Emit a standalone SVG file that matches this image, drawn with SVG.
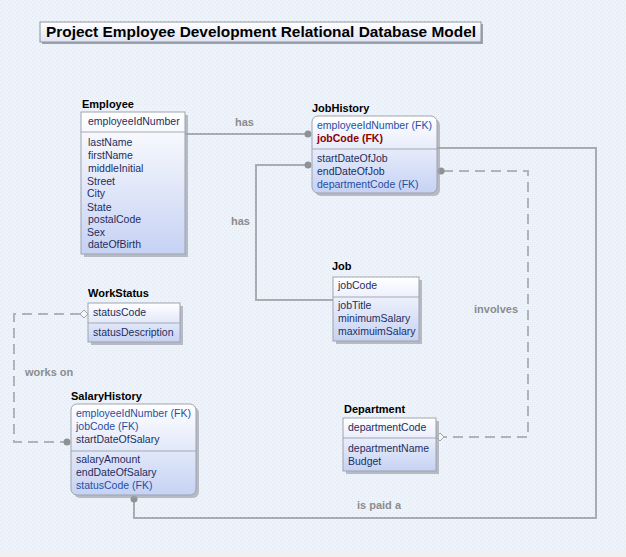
<svg xmlns="http://www.w3.org/2000/svg" width="626" height="557" viewBox="0 0 626 557">
<defs>
<pattern id="bgp" width="4" height="4" patternUnits="userSpaceOnUse">
<rect width="4" height="4" fill="#eef3fa"/>
<rect x="0" y="0" width="1" height="1" fill="#e0e7f1"/>
<rect x="2" y="2" width="1" height="1" fill="#e0e7f1"/>
</pattern>
<linearGradient id="ent" x1="0" y1="0" x2="0" y2="1">
<stop offset="0" stop-color="#ffffff"/>
<stop offset="1" stop-color="#c6d2f4"/>
</linearGradient>
<linearGradient id="ttl" x1="0" y1="0" x2="0" y2="1">
<stop offset="0" stop-color="#ffffff"/>
<stop offset="1" stop-color="#dfe4f6"/>
</linearGradient>
</defs>
<style>
.shadow{fill:#9ea3ad;opacity:0.7}
.box{fill:url(#ent);stroke:#9ea3ad;stroke-width:1}
.sep{stroke:#a3a8b3;stroke-width:1}
.etitle{font-family:"Liberation Sans",Arial,sans-serif;font-size:11px;font-weight:bold;fill:#000}
.attr{font-family:"Liberation Sans",Arial,sans-serif;font-size:10.5px;fill:#1f2d5c}
.fk{font-family:"Liberation Sans",Arial,sans-serif;font-size:10.5px;fill:#1f4fa3}
.fkb{font-family:"Liberation Sans",Arial,sans-serif;font-size:10.5px;font-weight:bold;fill:#8b0000}
.conn{fill:none;stroke:#a9acb3;stroke-width:2}
.dash{fill:none;stroke:#b0b3b9;stroke-width:2;stroke-dasharray:10,6}
.dot{fill:#8f9197}
.dia{fill:#f4f6fa;stroke:#a0a3a9;stroke-width:1}
.lbl{font-family:"Liberation Sans",Arial,sans-serif;font-size:11px;font-weight:bold;fill:#8c8c8c}
</style>
<rect width="626" height="557" fill="url(#bgp)"/>
<rect x="0" y="551" width="626" height="6" fill="#f0f0f0"/>

<g id="title">
<rect x="42" y="24" width="441" height="20" fill="#9ea3ad"/>
<rect x="40" y="22" width="441" height="20" fill="url(#ttl)" stroke="#8e939c" stroke-width="1"/>
<text x="46" y="37" font-family="Liberation Sans,Arial,sans-serif" font-size="14" font-weight="bold" fill="#000" textLength="430" lengthAdjust="spacingAndGlyphs">Project Employee Development Relational Database Model</text>
</g>

<g id="connectors">
<g id="c-has1">
<line class="conn" x1="185" y1="134" x2="306" y2="134"/>
<circle class="dot" cx="308" cy="134" r="3.5"/>
<text class="lbl" x="235" y="126">has</text>
</g>
<g id="c-has2">
<polyline class="conn" points="333,300 256,300 256,165 306,165"/>
<circle class="dot" cx="308" cy="165" r="3.5"/>
<text class="lbl" x="231" y="225">has</text>
</g>
<g id="c-involves">
<polyline class="dash" points="443,171 528,171 528,437 444,437"/>
<circle class="dot" cx="441" cy="171" r="3.5"/>
<polygon class="dia" points="436,437 440,433 444,437 440,441"/>
<text class="lbl" x="474" y="313">involves</text>
</g>
<g id="c-ispaida">
<polyline class="conn" points="437,148 596,148 596,518 134,518 134,501"/>
<circle class="dot" cx="134" cy="499" r="3.5"/>
<text class="lbl" x="357" y="509">is paid a</text>
</g>
<g id="c-workson">
<polyline class="dash" points="80,314 14,314 14,442 64,442"/>
<polygon class="dia" points="80,314 84,310 88,314 84,318"/>
<circle class="dot" cx="67" cy="442" r="3.5"/>
<text class="lbl" x="25" y="376">works on</text>
</g>
</g>

<g id="Employee">
<text class="etitle" x="82" y="108">Employee</text>
<rect class="shadow" x="84" y="115" width="104" height="142"/>
<rect class="box" x="81" y="112" width="104" height="142"/>
<line class="sep" x1="81" y1="132" x2="185" y2="132"/>
<text class="attr" x="88" y="125">employeeIdNumber</text>
<text class="attr" x="88" y="146">lastName</text>
<text class="attr" x="88" y="159">firstName</text>
<text class="attr" x="88" y="172">middleInitial</text>
<text class="attr" x="87" y="185">Street</text>
<text class="attr" x="87" y="197">City</text>
<text class="attr" x="87" y="211">State</text>
<text class="attr" x="88" y="223">postalCode</text>
<text class="attr" x="87" y="236">Sex</text>
<text class="attr" x="88" y="248">dateOfBirth</text>
</g>

<g id="JobHistory">
<text class="etitle" x="312" y="112">JobHistory</text>
<rect class="shadow" x="315" y="119" width="125" height="77" rx="6"/>
<rect class="box" x="312" y="116" width="125" height="77" rx="6"/>
<line class="sep" x1="312" y1="149" x2="437" y2="149"/>
<text class="fk" x="317" y="129">employeeIdNumber (FK)</text>
<text class="fkb" x="317" y="142">jobCode (FK)</text>
<text class="attr" x="317" y="162">startDateOfJob</text>
<text class="attr" x="317" y="175">endDateOfJob</text>
<text class="fk" x="317" y="188">departmentCode (FK)</text>
</g>

<g id="Job">
<text class="etitle" x="332" y="270">Job</text>
<rect class="shadow" x="336" y="280" width="86" height="64"/>
<rect class="box" x="333" y="277" width="86" height="64"/>
<line class="sep" x1="333" y1="297" x2="419" y2="297"/>
<text class="attr" x="338" y="289">jobCode</text>
<text class="attr" x="338" y="309">jobTitle</text>
<text class="attr" x="338" y="322">minimumSalary</text>
<text class="attr" x="338" y="335">maximuimSalary</text>
</g>

<g id="WorkStatus">
<text class="etitle" x="88" y="297">WorkStatus</text>
<rect class="shadow" x="91" y="306" width="92" height="39"/>
<rect class="box" x="88" y="303" width="92" height="39"/>
<line class="sep" x1="88" y1="323" x2="180" y2="323"/>
<text class="attr" x="93" y="316">statusCode</text>
<text class="attr" x="93" y="336">statusDescription</text>
</g>

<g id="SalaryHistory">
<text class="etitle" x="71" y="400">SalaryHistory</text>
<rect class="shadow" x="74" y="407" width="125" height="91" rx="6"/>
<rect class="box" x="71" y="404" width="125" height="91" rx="6"/>
<line class="sep" x1="71" y1="451" x2="196" y2="451"/>
<text class="fk" x="76" y="417">employeeIdNumber (FK)</text>
<text class="fk" x="76" y="430">jobCode (FK)</text>
<text class="attr" x="76" y="443">startDateOfSalary</text>
<text class="attr" x="76" y="463">salaryAmount</text>
<text class="attr" x="76" y="476">endDateOfSalary</text>
<text class="fk" x="76" y="489">statusCode (FK)</text>
</g>

<g id="Department">
<text class="etitle" x="344" y="413">Department</text>
<rect class="shadow" x="346" y="421" width="93" height="53"/>
<rect class="box" x="343" y="418" width="93" height="53"/>
<line class="sep" x1="343" y1="438" x2="436" y2="438"/>
<text class="attr" x="348" y="431">departmentCode</text>
<text class="attr" x="348" y="452">departmentName</text>
<text class="attr" x="348" y="465">Budget</text>
</g>
</svg>
